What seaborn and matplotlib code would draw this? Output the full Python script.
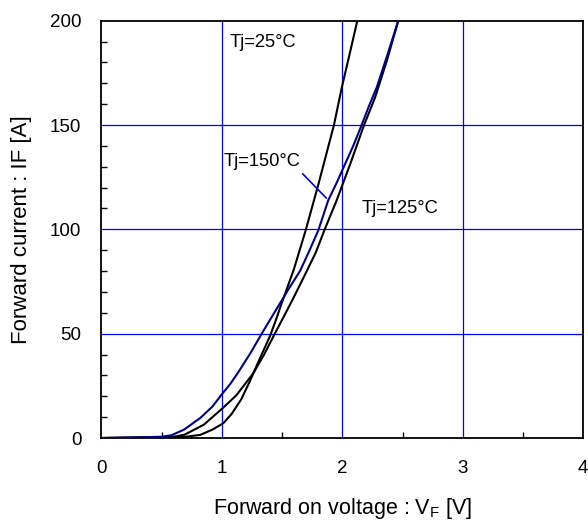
import matplotlib
matplotlib.use("Agg")
import matplotlib.pyplot as plt
from matplotlib.ticker import MultipleLocator
import pandas as pd
import seaborn as sns

# Forward characteristics (V_F in volts, I_F in amperes) per junction temperature
vf_25 = [0, 0.3, 0.6, 0.7, 0.82, 0.92, 1.01, 1.08, 1.16, 1.23, 1.31, 1.40,
         1.454, 1.482, 1.598, 1.695, 1.80, 1.93, 1.994, 2.06, 2.124]
if_25 = [0, 0.2, 0.4, 0.6, 1.5, 4, 7, 11.5, 18.5, 27, 37.5, 49,
         57.5, 62.3, 81, 99.5, 121.4, 150, 167.7, 184, 200]

vf_125 = [0, 0.3, 0.55, 0.62, 0.69, 0.85, 1.01, 1.12, 1.18, 1.26, 1.35, 1.43,
          1.53, 1.61, 1.704, 1.78, 1.85, 1.953, 2.063, 2.18, 2.27, 2.37, 2.464]
if_125 = [0, 0.2, 0.4, 0.8, 1.6, 6.4, 14.5, 20.5, 25, 31, 40, 49,
          60, 69, 80, 89, 99.5, 114, 131, 150, 163, 181, 200]

vf_150 = [0, 0.3, 0.5, 0.58, 0.685, 0.82, 0.92, 1.0, 1.07, 1.13, 1.24, 1.33,
          1.45, 1.56, 1.648, 1.72, 1.80, 1.883, 1.95, 2.02, 2.09, 2.16,
          2.22, 2.285, 2.37, 2.464]
if_150 = [0, 0.3, 0.6, 1.3, 4, 9.6, 15, 21, 26, 31, 41, 50,
          61.5, 72, 80, 89, 99.5, 114, 122, 131, 140, 150,
          159, 168, 183, 200]

series_names = ["Tj=25°C", "Tj=125°C", "Tj=150°C"]
series_colors = ["#000000", "#000000", "#00008C"]

x_ticks = [0, 1, 2, 3, 4]
y_ticks = [0, 50, 100, 150, 200]

frames = []
for name, v, i in zip(series_names, [vf_25, vf_125, vf_150],
                      [if_25, if_125, if_150]):
    frames.append(pd.DataFrame({"VF": v, "IF": i, "curve": name}))
df = pd.concat(frames, ignore_index=True)

sns.set_theme(style="white")
plt.rcParams["font.family"] = ["Liberation Sans", "DejaVu Sans"]
plt.rcParams["mathtext.fontset"] = "custom"
plt.rcParams["mathtext.rm"] = "Liberation Sans"
plt.rcParams["text.color"] = "black"
plt.rcParams["axes.labelcolor"] = "black"
plt.rcParams["xtick.color"] = "black"
plt.rcParams["ytick.color"] = "black"

fig = plt.figure(figsize=(5.88, 5.21), dpi=100)
ax = fig.add_axes([0.1726, 0.1593, 0.992 - 0.1726, 0.9603 - 0.1593])

grid_color = "#0000FF"
for xv in x_ticks[1:-1]:
    ax.axvline(xv, color=grid_color, lw=0.9, zorder=1)
for yv in y_ticks[1:-1]:
    ax.axhline(yv, color=grid_color, lw=0.9, zorder=1)

sns.lineplot(data=df, x="VF", y="IF", hue="curve", units="curve",
             estimator=None, sort=False,
             palette=dict(zip(series_names, series_colors)),
             linewidth=1.5, legend=False, ax=ax, zorder=3)

ax.set_xlim(x_ticks[0], x_ticks[-1])
ax.set_ylim(y_ticks[0], y_ticks[-1])
ax.set_xticks(x_ticks)
ax.set_yticks(y_ticks)
ax.xaxis.set_minor_locator(MultipleLocator(0.5))
ax.yaxis.set_minor_locator(MultipleLocator(10))
ax.tick_params(which="major", length=0, labelsize=13.5)
ax.tick_params(axis="x", which="major", pad=15.5)
ax.tick_params(axis="y", which="major", pad=14.5)
ax.tick_params(which="minor", direction="in", length=4, width=1, color="black")
ax.xaxis.set_tick_params(which="minor", bottom=True)
ax.yaxis.set_tick_params(which="minor", left=True)

for s in ax.spines.values():
    s.set_color("#000000")
    s.set_linewidth(1.3)

ax.set_xlabel("Forward on voltage : $\\mathregular{V_F}$ [V]", fontsize=15.5)
ax.set_ylabel("Forward current : IF [A]", fontsize=16)
ax.xaxis.set_label_coords(0.5, -0.139)
ax.yaxis.set_label_coords(-0.144, 0.5)

ax.text(1.067, 189.7, series_names[0], fontsize=13.2, va="center", ha="left", zorder=4)
ax.text(1.01, 132.3, series_names[2], fontsize=13.2, va="center", ha="left", zorder=4)
ax.text(2.16, 110.2, series_names[1], fontsize=13.2, va="center", ha="left", zorder=4)
ax.annotate("", xy=(1.883, 114.0), xytext=(1.654, 127.6),
            arrowprops=dict(arrowstyle="-", color="#0000E0", lw=1.2), zorder=4)

fig.savefig("out.png", dpi=100)
